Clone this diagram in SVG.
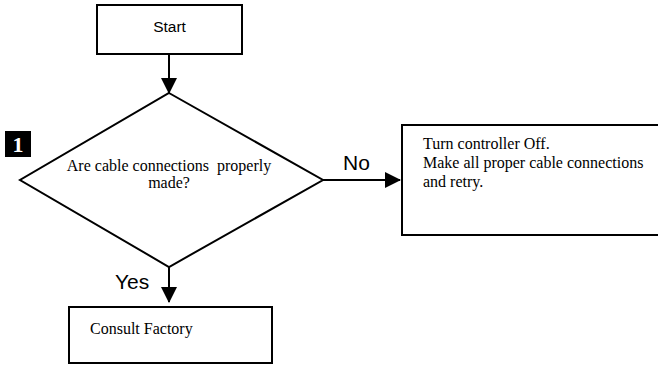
<svg xmlns="http://www.w3.org/2000/svg" width="658" height="365" viewBox="0 0 658 365">
<style>
.box{fill:#fff;stroke:#000;stroke-width:2}
.ln{stroke:#000;stroke-width:2;fill:none}
.sans{font-family:"Liberation Sans",Arial,sans-serif;fill:#000}
.serif{font-family:"Liberation Serif","Times New Roman",serif;fill:#000;font-size:16px}
</style>
<defs>
<marker id="ah" markerWidth="16" markerHeight="16" refX="15" refY="8" orient="auto" markerUnits="userSpaceOnUse">
<path d="M0,0 L16,8 L0,16 Z" fill="#000"/>
</marker>
</defs>
<rect width="658" height="365" fill="#fff"/>
<g id="connectors">
<line class="ln" x1="169" y1="54" x2="169" y2="93" marker-end="url(#ah)"/>
<line class="ln" x1="169" y1="267" x2="169" y2="302" marker-end="url(#ah)"/>
<line class="ln" x1="323" y1="180" x2="400" y2="180" marker-end="url(#ah)"/>
<text class="sans" x="115" y="289" font-size="21">Yes</text>
<text class="sans" x="343" y="170" font-size="21">No</text>
</g>
<g id="start">
<rect class="box" x="97" y="5" width="145" height="49"/>
<text class="sans" x="169.5" y="32" font-size="15.5" text-anchor="middle">Start</text>
</g>
<g id="decision">
<polygon class="box" points="169,93 323,180 169,267 20,180"/>
<text class="serif" x="169" y="171" text-anchor="middle" xml:space="preserve">Are cable connections  properly</text>
<text class="serif" x="169" y="188" text-anchor="middle">made?</text>
</g>
<g id="badge">
<rect x="5" y="131" width="26" height="26" fill="#000"/>
<text x="18" y="152" font-family="'Liberation Serif','Times New Roman',serif" font-weight="bold" font-size="22" fill="#fff" text-anchor="middle">1</text>
</g>
<g id="retry">
<rect class="box" x="402" y="125" width="270" height="110"/>
<text class="serif" x="423" y="149">Turn controller Off.</text>
<text class="serif" x="423" y="168">Make all proper cable connections</text>
<text class="serif" x="423" y="187">and retry.</text>
</g>
<g id="consult">
<rect class="box" x="69" y="307" width="203" height="56"/>
<text class="serif" x="90" y="334">Consult Factory</text>
</g>
</svg>
